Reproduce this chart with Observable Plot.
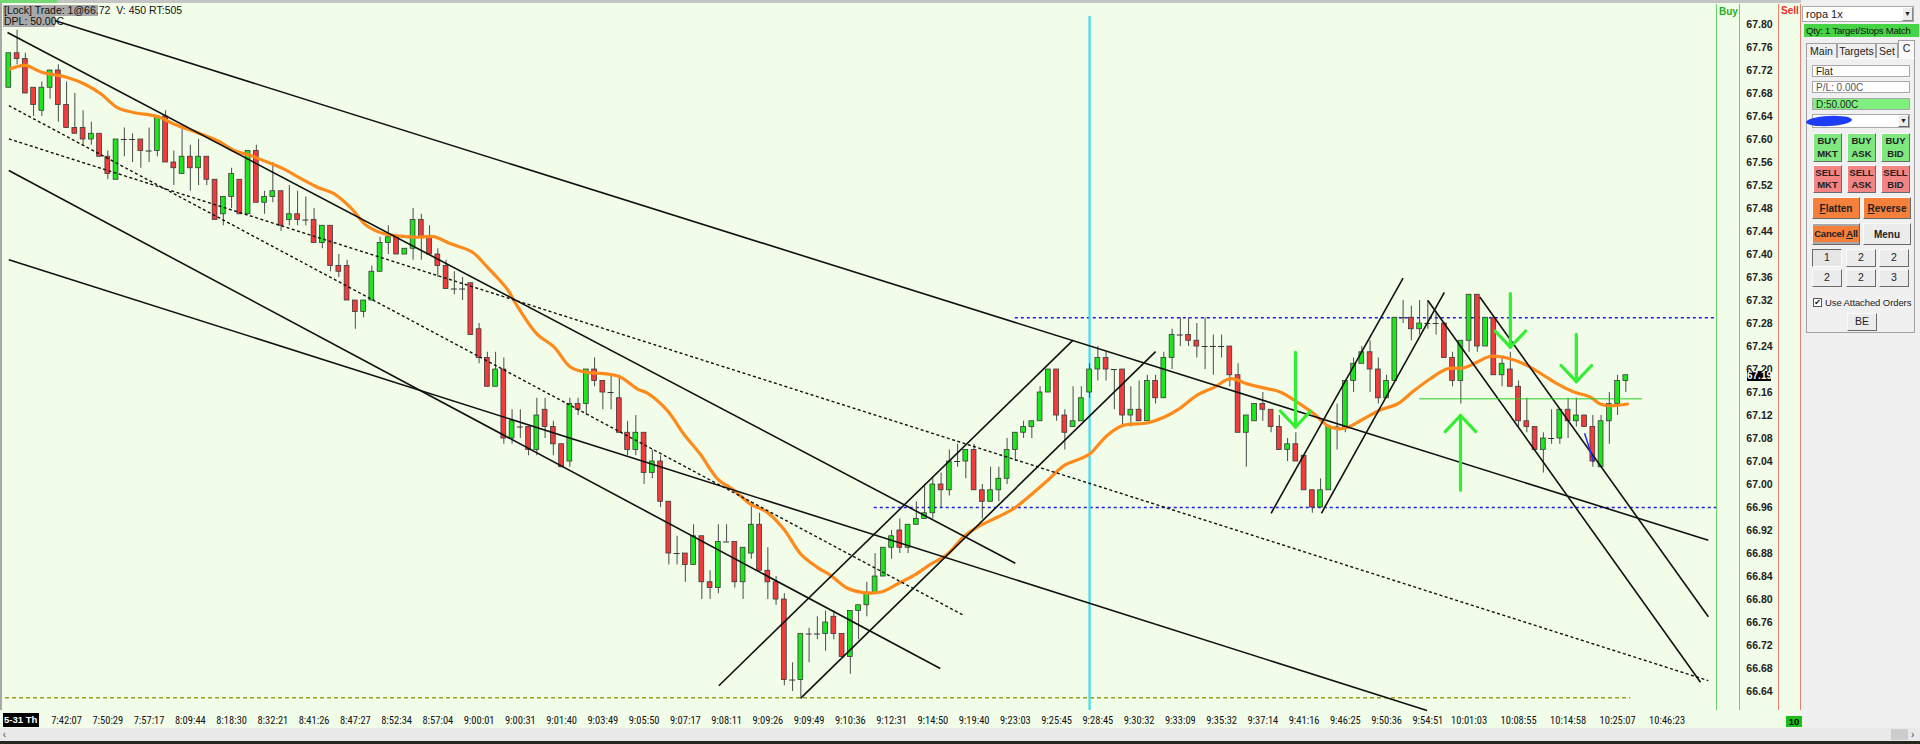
<!DOCTYPE html>
<html><head><meta charset="utf-8">
<script src="https://cdn.jsdelivr.net/npm/d3@7"></script>
<script src="https://cdn.jsdelivr.net/npm/@observablehq/plot@0.6"></script>
<style>
body{margin:0;background:#f0f0f0;}
#wrap{position:relative;width:1920px;height:744px;overflow:hidden;background:#f1fde9;font-family:"Liberation Sans",Arial,sans-serif;}
.a{position:absolute;box-sizing:border-box;}
.btn{position:absolute;box-sizing:border-box;border:1px solid;border-color:#fafafa #6a6a6a #6a6a6a #fafafa;font:bold 9.5px "Liberation Sans",Arial,sans-serif;color:#222;display:flex;align-items:center;justify-content:center;text-align:center;line-height:1.3;white-space:nowrap;}
.box{position:absolute;box-sizing:border-box;background:#fff;border:1px solid #a8a8a8;font:10.5px "Liberation Sans",Arial,sans-serif;color:#222;padding-left:3px;line-height:11px;}
.tab{position:absolute;box-sizing:border-box;border:1px solid #a0a0a0;border-bottom:none;background:#f0f0f0;font:10.5px "Liberation Sans",Arial,sans-serif;color:#222;text-align:center;line-height:14px;}
</style></head><body><div id="wrap"></div>
<script>
// ---- candle data (index 0..196) ----
const opens = [67.69,67.75,67.74,67.69,67.65,67.69,67.72,67.66,67.62,67.62,67.60,67.61,67.57,67.53,67.60,67.60,67.60,67.58,67.58,67.64,
67.56,67.54,67.57,67.55,67.57,67.53,67.47,67.50,67.53,67.47,67.58,67.49,67.50,67.51,67.46,67.47,67.46,67.46,67.42,67.45,
67.38,67.38,67.32,67.30,67.32,67.37,67.42,67.43,67.40,67.41,67.46,67.43,67.40,67.38,67.34,67.34,67.35,67.27,67.22,67.17,
67.20,67.08,67.10,67.10,67.06,67.13,67.10,67.07,67.04,67.14,67.14,67.20,67.18,67.16,67.15,67.09,67.06,67.09,67.02,67.04,
66.97,66.88,66.88,66.86,66.91,66.83,66.82,66.90,66.90,66.83,66.88,66.93,66.85,66.83,66.80,66.66,66.66,66.74,66.74,66.74,
66.77,66.74,66.70,66.78,66.79,66.81,66.84,66.89,66.92,66.89,66.93,66.94,66.95,67.00,66.99,67.04,67.04,67.06,66.99,66.97,
66.99,67.01,67.06,67.09,67.10,67.11,67.16,67.20,67.12,67.10,67.11,67.16,67.20,67.22,67.20,67.20,67.12,67.13,67.11,67.18,
67.15,67.22,67.26,67.26,67.25,67.24,67.24,67.24,67.24,67.19,67.09,67.11,67.14,67.13,67.10,67.06,67.07,67.05,66.99,66.96,
66.99,67.10,67.10,67.18,67.21,67.23,67.20,67.15,67.18,67.29,67.29,67.27,67.28,67.28,67.28,67.22,67.18,67.25,67.33,67.24,
67.29,67.19,67.20,67.17,67.11,67.10,67.06,67.08,67.08,67.13,67.11,67.12,67.10,67.03,67.11,67.14,67.18];
const highs = [67.75,67.79,67.75,67.69,67.70,67.72,67.73,67.70,67.68,67.65,67.63,67.61,67.58,67.60,67.62,67.61,67.60,67.62,67.64,67.65,
67.58,67.62,67.59,67.60,67.57,67.53,67.50,67.55,67.53,67.58,67.59,67.51,67.56,67.51,67.52,67.51,67.50,67.48,67.45,67.45,
67.40,67.39,67.32,67.32,67.38,67.43,67.45,67.43,67.41,67.48,67.47,67.45,67.41,67.39,67.37,67.36,67.35,67.28,67.23,67.23,
67.22,67.13,67.13,67.10,67.15,67.15,67.11,67.07,67.15,67.15,67.20,67.22,67.18,67.19,67.19,67.11,67.12,67.09,67.06,67.05,
66.97,66.91,66.88,66.93,66.91,66.85,66.93,66.93,66.90,66.89,66.97,66.95,66.89,66.84,66.81,66.69,66.74,66.75,66.77,66.78,
66.78,66.74,66.78,66.79,66.83,66.88,66.89,66.92,66.94,66.93,66.97,67.00,67.01,67.02,67.06,67.07,67.06,67.07,67.00,67.03,
67.03,67.08,67.09,67.11,67.11,67.17,67.20,67.20,67.13,67.17,67.17,67.21,67.24,67.23,67.20,67.20,67.17,67.18,67.19,67.19,
67.23,67.27,67.29,67.29,67.28,67.29,67.26,67.26,67.24,67.21,67.12,67.14,67.16,67.13,67.12,67.08,67.09,67.05,66.99,67.01,
67.10,67.14,67.18,67.22,67.24,67.25,67.22,67.19,67.29,67.32,67.31,67.32,67.32,67.30,67.28,67.23,67.25,67.33,67.33,67.29,
67.29,67.22,67.23,67.18,67.15,67.10,67.09,67.13,67.13,67.15,67.15,67.12,67.12,67.12,67.16,67.19,67.19];
const lows = [67.69,67.73,67.68,67.64,67.64,67.67,67.63,67.62,67.61,67.59,67.59,67.57,67.53,67.53,67.57,67.56,67.55,67.56,67.57,67.56,
67.52,67.54,67.51,67.52,67.52,67.46,67.45,67.48,67.47,67.47,67.49,67.47,67.49,67.44,67.45,67.45,67.45,67.42,67.41,67.37,
67.36,67.32,67.27,67.29,67.32,67.37,67.40,67.40,67.40,67.39,67.39,67.40,67.36,67.34,67.33,67.32,67.26,67.21,67.17,67.17,
67.07,67.07,67.08,67.05,67.05,67.08,67.05,67.03,67.03,67.12,67.12,67.17,67.13,67.13,67.09,67.05,67.05,67.00,67.01,66.96,
66.86,66.86,66.83,66.86,66.80,66.80,66.81,66.90,66.82,66.80,66.87,66.85,66.80,66.79,66.65,66.64,66.63,66.69,66.73,66.71,
66.73,66.70,66.67,66.73,66.77,66.81,66.84,66.87,66.88,66.88,66.93,66.94,66.94,66.96,66.98,67.03,67.01,66.99,66.94,66.97,
66.97,67.00,67.04,67.08,67.08,67.11,67.16,67.11,67.06,67.10,67.11,67.15,67.18,67.18,67.13,67.10,67.10,67.11,67.11,67.14,
67.15,67.20,67.24,67.24,67.22,67.20,67.19,67.22,67.17,67.09,67.03,67.11,67.11,67.09,67.06,67.04,67.04,66.99,66.95,66.96,
66.99,67.06,67.09,67.16,67.21,67.16,67.14,67.15,67.18,67.28,67.25,67.26,67.27,67.26,67.22,67.17,67.14,67.23,67.23,67.24,
67.19,67.17,67.17,67.10,67.09,67.06,67.02,67.07,67.07,67.08,67.10,67.10,67.03,67.03,67.07,67.12,67.16];
const closes = [67.75,67.74,67.68,67.66,67.69,67.72,67.66,67.62,67.61,67.60,67.61,67.57,67.54,67.60,67.60,67.60,67.58,67.58,67.64,67.56,
67.55,67.57,67.55,67.57,67.53,67.46,67.50,67.54,67.47,67.58,67.49,67.50,67.51,67.45,67.47,67.46,67.46,67.42,67.45,67.38,
67.37,67.32,67.30,67.32,67.37,67.42,67.43,67.40,67.41,67.46,67.43,67.40,67.38,67.34,67.34,67.34,67.26,67.22,67.17,67.20,
67.08,67.11,67.10,67.06,67.12,67.10,67.07,67.03,67.14,67.13,67.20,67.18,67.16,67.16,67.09,67.06,67.09,67.02,67.04,66.97,
66.88,66.88,66.86,66.91,66.83,66.82,66.90,66.90,66.83,66.89,66.93,66.85,66.83,66.80,66.66,66.66,66.74,66.74,66.74,66.76,
66.74,66.70,66.78,66.79,66.81,66.84,66.89,66.91,66.89,66.93,66.94,66.95,67.00,66.99,67.04,67.04,67.06,66.99,66.97,66.99,
67.01,67.06,67.09,67.10,67.11,67.16,67.20,67.12,67.09,67.11,67.15,67.20,67.22,67.20,67.20,67.12,67.13,67.11,67.18,67.15,
67.22,67.26,67.26,67.25,67.24,67.24,67.24,67.24,67.19,67.09,67.12,67.14,67.13,67.10,67.06,67.07,67.04,66.99,66.96,66.99,
67.10,67.10,67.18,67.21,67.23,67.20,67.15,67.18,67.29,67.29,67.27,67.28,67.28,67.28,67.22,67.18,67.25,67.33,67.24,67.29,
67.19,67.21,67.17,67.11,67.10,67.06,67.08,67.08,67.13,67.11,67.12,67.10,67.04,67.11,67.14,67.18,67.19];

// ---- orange moving-average line ----
const maIdx = [0.2,2,4,7.1,9.1,11.1,13.1,15.1,18,20,23.2,25.3,27.3,29.3,31.3,33.3,35.4,37.4,39.4,41.4,43.4,45.5,47.5,49.5,51.5,53.5,56.2,58,60.4,61.6,64,66.1,68.1,70.1,72.1,74.1,76.2,77.4,79.8,81.8,83.8,85.9,87.9,89.9,91.9,93.9,96,98,99.6,101.6,103.6,105.7,107.7,109.7,111.7,113.7,115.8,117.4,119.8,121.8,123.8,125.9,127.9,129.9,131.1,133.1,135.1,138,140,142,144,146.1,148.1,150.1,152.1,154.1,156.2,158.2,159.8,161,162.2,164.2,166.3,168.3,170.3,172.3,174.3,176.4,178,179.6,181.6,183.6,185.7,187.7,189.7,191.7,192.9,194.1,196.2];
const maVal = [67.723,67.729,67.717,67.708,67.697,67.680,67.656,67.647,67.640,67.627,67.610,67.598,67.581,67.572,67.561,67.549,67.532,67.517,67.506,67.482,67.450,67.436,67.432,67.430,67.431,67.419,67.404,67.378,67.340,67.311,67.262,67.239,67.204,67.195,67.193,67.187,67.166,67.159,67.129,67.088,67.053,67.010,66.990,66.966,66.952,66.923,66.879,66.856,66.842,66.820,66.812,66.813,66.827,66.842,66.861,66.878,66.910,66.926,66.943,66.958,66.981,67.007,67.033,67.045,67.054,67.085,67.103,67.107,67.117,67.133,67.155,67.169,67.184,67.175,67.168,67.161,67.143,67.123,67.103,67.097,67.099,67.114,67.130,67.140,67.163,67.184,67.201,67.203,67.213,67.223,67.220,67.210,67.193,67.175,67.161,67.152,67.140,67.137,67.140];

// ---- axes ----
const yTicks = [66.64,66.68,66.72,66.76,66.80,66.84,66.88,66.92,66.96,67.00,67.04,67.08,67.12,67.16,67.20,67.24,67.28,67.32,67.36,67.40,67.44,67.48,67.52,67.56,67.60,67.64,67.68,67.72,67.76,67.80];
const tickIdx = [7,12,17,22,27,32,37,42,47,52,57,62,67,72,77,82,87,92,97,102,107,112,117,122,127,132,137,142,147,152,157,162,167,172,177,183,189,195,201];
const tickLabels = ["7:42:07","7:50:29","7:57:17","8:09:44","8:18:30","8:32:21","8:41:26","8:47:27","8:52:34","8:57:04","9:00:01","9:00:31","9:01:40","9:03:49","9:05:50","9:07:17","9:08:11","9:09:26","9:09:49","9:10:36","9:12:31","9:14:50","9:19:40","9:23:03","9:25:45","9:28:45","9:30:32","9:33:09","9:35:32","9:37:14","9:41:16","9:46:25","9:50:36","9:54:51","10:01:03","10:08:55","10:14:58","10:25:07","10:46:23"];

// ---- drawn trend lines (candle index, price) ----
const solidX1 = [5.05,-0.16,0,0,86.06,95.96,153.0,159.1,172.0,178.3];
const solidY1 = [67.809,67.786,67.546,67.391,66.650,66.628,66.950,66.950,67.320,67.326];
const solidX2 = [206.0,122.0,112.9,171.9,129.0,139.0,169.0,174.0,205.05,206.0];
const solidY2 = [66.903,66.863,66.680,66.607,67.251,67.231,67.359,67.334,66.656,66.770];
const dashX1 = [0,0], dashY1 = [67.659,67.601], dashX2 = [115.8,206.0], dashY2 = [66.772,66.659];

// horizontal levels
const blueLevels = [67.29,66.96], blueFrom = [122,104.9], blueTo = [207,207];
const oliveLevel = 66.629, oliveFrom = -0.4, oliveTo = 196.6;
const greenLevel = 67.149, greenFrom = 171.0, greenTo = 198;
const cyanIdx = 131;
// green arrows: x, tail price, tip price
const arrowX = [155.96,175.96,182.0,190.0];
const arrowTail = [67.230,66.990,67.332,67.261];
const arrowTip = [67.100,67.120,67.239,67.179];
const lastPrice = 67.19;

const candles = opens.map((o,i)=>({i,o,h:highs[i],l:lows[i],c:closes[i]}));
const up = candles.filter(d=>d.c>d.o), dn = candles.filter(d=>d.c<d.o), dj = candles.filter(d=>d.c===d.o);
const seg = (x1,y1,x2,y2)=>x1.map((v,k)=>({x1:v,y1:y1[k],x2:x2[k],y2:y2[k]}));
const ma = maIdx.map((x,k)=>({x,y:maVal[k]}));
const arrowSegs = [];
arrowX.forEach((x,k)=>{
  const t = arrowTip[k], dir = arrowTail[k] > t ? 1 : -1, base = t + dir*0.028;
  arrowSegs.push({x1:x,y1:arrowTail[k],x2:x,y2:t});
  arrowSegs.push({x1:x-1.85,y1:base,x2:x,y2:t});
  arrowSegs.push({x1:x+1.85,y1:base,x2:x,y2:t});
});
const lblMap = new Map(tickIdx.map((d,k)=>[d,tickLabels[k]]));

const chart = Plot.plot({
  width:1920, height:744,
  marginLeft:3, marginRight:204, marginTop:4, marginBottom:34,
  x:{domain:[-0.646,206.99], range:[3,1716]},
  y:{domain:[66.607,67.8348], range:[710,4]},
  style:{background:"#f1fde9", fontFamily:"Liberation Sans, Arial, sans-serif", overflow:"visible"},
  marks:[
    Plot.ruleY([oliveLevel],{x1:oliveFrom,x2:oliveTo,stroke:"#9c9c1c",strokeWidth:1.5,strokeDasharray:"4,3"}),
    Plot.ruleY(blueLevels,{x1:(d,k)=>blueFrom[k],x2:(d,k)=>blueTo[k],stroke:"#1e1ee6",strokeWidth:1.5,strokeDasharray:"3,3"}),
    Plot.ruleX([cyanIdx],{y1:67.814,y2:66.607,stroke:"#3ddcf0",strokeWidth:2.2}),
    Plot.ruleX(candles,{x:"i",y1:"l",y2:"h",stroke:"#4a4a4a",strokeWidth:1}),
    Plot.rect(up,{x1:d=>d.i-0.29,x2:d=>d.i+0.29,y1:"o",y2:"c",fill:"#1ee61e",stroke:"#3a3a3a",strokeWidth:0.8}),
    Plot.rect(dn,{x1:d=>d.i-0.29,x2:d=>d.i+0.29,y1:"o",y2:"c",fill:"#f23c3c",stroke:"#3a3a3a",strokeWidth:0.8}),
    Plot.ruleY(dj,{y:"c",x1:d=>d.i-0.36,x2:d=>d.i+0.36,stroke:"#333",strokeWidth:1}),
    Plot.line(ma,{x:"x",y:"y",stroke:"#ff8a1c",strokeWidth:3.2,curve:"catmull-rom"}),
    Plot.link(seg(solidX1,solidY1,solidX2,solidY2),{x1:"x1",y1:"y1",x2:"x2",y2:"y2",stroke:"#111",strokeWidth:1.6}),
    Plot.link(seg(dashX1,dashY1,dashX2,dashY2),{x1:"x1",y1:"y1",x2:"x2",y2:"y2",stroke:"#111",strokeWidth:1.4,strokeDasharray:"3,2.5"}),
    Plot.ruleY([greenLevel],{x1:greenFrom,x2:greenTo,stroke:"#22cc22",strokeWidth:1}),
    Plot.link([{x1:191.0,y1:67.089,x2:192.1,y2:67.039}],{x1:"x1",y1:"y1",x2:"x2",y2:"y2",stroke:"#2030ff",strokeWidth:1.5}),
    Plot.link(arrowSegs,{x1:"x1",y1:"y1",x2:"x2",y2:"y2",stroke:"#34ee34",strokeWidth:3.2,strokeLinecap:"round"}),
    Plot.axisY({ticks:yTicks,anchor:"right",tickSize:0,tickPadding:0,dx:43,textAnchor:"middle",tickFormat:d=>d.toFixed(2),fontWeight:"bold",fontSize:10.5,fill:"#222",label:null}),
    Plot.axisX({ticks:tickIdx,anchor:"bottom",tickSize:0,tickPadding:6,tickFormat:d=>lblMap.get(d),fontSize:10.5,fill:"#111",label:null,fontFamily:"Liberation Sans Narrow, Roboto Condensed, Liberation Sans, sans-serif"})
  ]
});
const wrap = document.getElementById("wrap");
chart.style.position="absolute"; chart.style.left="0"; chart.style.top="0";
wrap.appendChild(chart);

const yS = chart.scale("y");
const lpY = yS.apply(lastPrice);

const html = `
<div class="a" style="left:0;top:0;width:1920px;height:3px;background:#c4c4c4"></div>
<div class="a" style="left:0;top:0;width:57px;height:3px;background:#74d874"></div>
<div class="a" style="left:0;top:3px;width:2px;height:707px;background:#a8a8a8"></div>
<div class="a" style="left:3px;top:5px;width:95px;height:11px;background:#a9a9a9"></div>
<div class="a" style="left:3px;top:16px;width:52px;height:11px;background:#a9a9a9"></div>
<div class="a" style="left:4px;top:4px;font:10.5px 'Liberation Sans',Arial;color:#111;white-space:nowrap;line-height:12px">[Lock] Trade: 1@66.72 &nbsp;V: 450 RT:505</div>
<div class="a" style="left:4px;top:15px;font:10.5px 'Liberation Sans',Arial;color:#111;white-space:nowrap;line-height:12px">DPL: 50.00C</div>
<div class="a" style="left:1716px;top:4px;width:1px;height:706px;background:#6ccf6c"></div>
<div class="a" style="left:1739px;top:4px;width:1px;height:706px;background:#6ccf6c"></div>
<div class="a" style="left:1778px;top:4px;width:1px;height:706px;background:#e8826c"></div>
<div class="a" style="left:1800px;top:4px;width:1px;height:706px;background:#e8826c"></div>
<div class="a" style="left:1719px;top:6px;font:bold 10px 'Liberation Sans',Arial;color:#22b022">Buy</div>
<div class="a" style="left:1781px;top:5px;font:bold 10px 'Liberation Sans',Arial;color:#ee2a2a">Sell</div>
<div class="a" style="left:1747px;top:${lpY-4}px;width:24px;height:10px;background:#000;color:#fff;font:bold 10px 'Liberation Sans',Arial;line-height:10px;text-align:center">67.19</div>
<div class="a" style="left:3px;top:713px;width:36px;height:14px;background:#000;color:#fff;font:bold 9.5px 'Liberation Sans Narrow','Liberation Sans',Arial;line-height:14px;white-space:nowrap;padding-left:1px">5-31 Th</div>
<div class="a" style="left:1801px;top:0;width:119px;height:728px;background:#f0f0f0"></div>
<div class="a" style="left:1786px;top:716px;width:16px;height:11px;background:#18c018;color:#000;font:bold 9.5px 'Liberation Sans',Arial;line-height:11px;text-align:center">10</div>
<div class="a" style="left:0;top:728px;width:1920px;height:13px;background:#e9e9e9;font:10px 'Liberation Sans',Arial;color:#444;line-height:13px">&nbsp;‹</div>
<div class="a" style="left:1891px;top:729px;width:17px;height:11px;background:#cdcdcd"></div>
<div class="a" style="left:1911px;top:728px;font:10px 'Liberation Sans',Arial;color:#444;line-height:13px">›</div>
<div class="a" style="left:0;top:741px;width:1920px;height:3px;background:#26261c"></div>

<div class="box" style="left:1802px;top:6px;width:112px;height:16px;line-height:14px;font-size:11px">ropa 1x</div>
<div class="btn" style="left:1902px;top:7px;width:11px;height:14px;background:#ececec;font-size:7px;border-color:#fff #888 #888 #fff">▼</div>
<div class="a" style="left:1804px;top:24px;width:115px;height:13px;background:#46d346;font:9.5px 'Liberation Sans',Arial;letter-spacing:-0.2px;color:#111;line-height:13px;padding-left:2px;white-space:nowrap">Qty: 1 Target/Stops Match</div>
<div class="a" style="left:1806px;top:58px;width:109px;height:275px;border:1px solid #a0a0a0;border-top-color:#fff"></div>
<div class="tab" style="left:1806px;top:43px;width:31px;height:15px">Main</div>
<div class="tab" style="left:1837px;top:43px;width:39px;height:15px">Targets</div>
<div class="tab" style="left:1876px;top:43px;width:22px;height:15px">Set</div>
<div class="tab" style="left:1898px;top:40px;width:17px;height:18px;background:#f9f9f9;line-height:15px">C</div>
<div class="box" style="left:1812px;top:65px;width:98px;height:12px;font-size:10px">Flat</div>
<div class="box" style="left:1812px;top:81px;width:98px;height:12px;font-size:10px;color:#555">P/L: 0.00C</div>
<div class="box" style="left:1812px;top:98px;width:98px;height:12px;font-size:10px;background:#7ef07e">D:50.00C</div>
<div class="box" style="left:1812px;top:114px;width:98px;height:14px"></div>
<div class="btn" style="left:1898px;top:115px;width:11px;height:12px;background:#ececec;font-size:7px">▼</div>
<div class="a" style="left:1806px;top:116px;width:46px;height:10px;border-radius:50%;background:#1c3cf5;transform:rotate(-3deg)"></div>
<div class="btn" style="left:1813px;top:133px;width:29px;height:29px;background:#7ee87e">BUY<br>MKT</div>
<div class="btn" style="left:1847px;top:133px;width:29px;height:29px;background:#7ee87e">BUY<br>ASK</div>
<div class="btn" style="left:1881px;top:133px;width:29px;height:29px;background:#7ee87e">BUY<br>BID</div>
<div class="btn" style="left:1813px;top:165px;width:29px;height:28px;background:#f38484">SELL<br>MKT</div>
<div class="btn" style="left:1847px;top:165px;width:29px;height:28px;background:#f38484">SELL<br>ASK</div>
<div class="btn" style="left:1881px;top:165px;width:29px;height:28px;background:#f38484">SELL<br>BID</div>
<div class="btn" style="left:1812px;top:197px;width:48px;height:22px;background:#f5803c;font-size:10px"><span><u>F</u>latten</span></div>
<div class="btn" style="left:1863px;top:197px;width:48px;height:22px;background:#f5803c;font-size:10px"><span><u>R</u>everse</span></div>
<div class="btn" style="left:1812px;top:223px;width:48px;height:22px;background:#a8a8a8;font-size:9.5px;padding:0"><span style="background:#f5803c;padding:2px 1px;letter-spacing:-0.2px">Cancel <u>A</u>ll</span></div>
<div class="btn" style="left:1863px;top:223px;width:48px;height:22px;background:#ececec;font-size:10px">Menu</div>
<div class="btn" style="left:1812px;top:249px;width:30px;height:18px;background:#e6e6e6;border-color:#6a6a6a #fafafa #fafafa #6a6a6a;font-weight:normal;font-size:10.5px">1</div>
<div class="btn" style="left:1846px;top:249px;width:30px;height:18px;background:#ececec;font-weight:normal;font-size:10.5px">2</div>
<div class="btn" style="left:1879px;top:249px;width:30px;height:18px;background:#ececec;font-weight:normal;font-size:10.5px">2</div>
<div class="btn" style="left:1812px;top:269px;width:30px;height:18px;background:#ececec;font-weight:normal;font-size:10.5px">2</div>
<div class="btn" style="left:1846px;top:269px;width:30px;height:18px;background:#ececec;font-weight:normal;font-size:10.5px">2</div>
<div class="btn" style="left:1879px;top:269px;width:30px;height:18px;background:#ececec;font-weight:normal;font-size:10.5px">3</div>
<div class="a" style="left:1813px;top:298px;width:9px;height:9px;border:1px solid #555;background:#fff;font:8px 'DejaVu Sans';line-height:8px;text-align:center;color:#111">✔</div>
<div class="a" style="left:1825px;top:297px;font:9.5px 'Liberation Sans',Arial;letter-spacing:-0.1px;color:#222;white-space:nowrap">Use Attached Orders</div>
<div class="btn" style="left:1847px;top:313px;width:30px;height:18px;background:#ececec;font-weight:normal;font-size:10.5px">BE</div>
`;
wrap.insertAdjacentHTML("beforeend", html);
</script></body></html>
